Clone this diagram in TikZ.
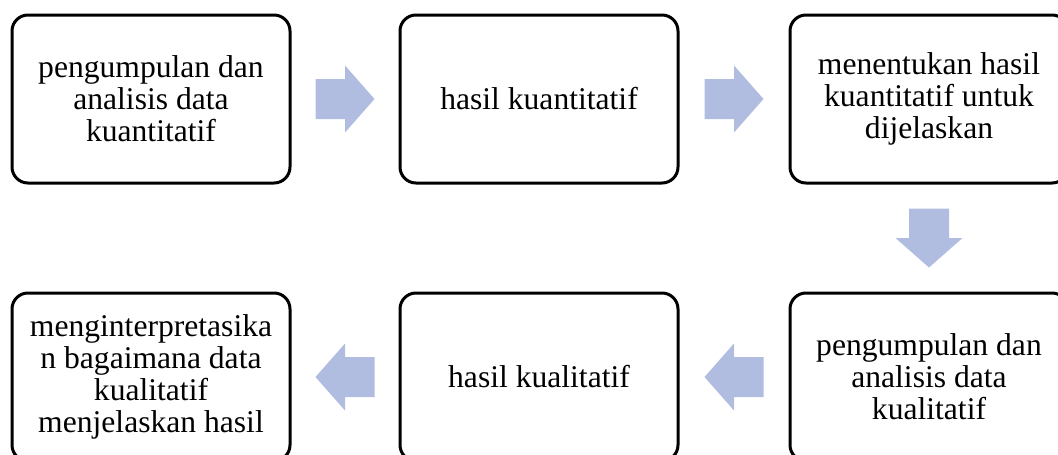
\documentclass[tikz,border=0pt]{standalone}
\usepackage{fontspec}
\setmainfont{Liberation Serif}
\usetikzlibrary{calc}
\definecolor{arrowfill}{RGB}{176,189,224}
\tikzset{
  stage/.style={draw=black, line width=3pt, rounded corners=16pt,
    minimum width=278pt, minimum height=168pt, align=center,
    font=\fontsize{31.6}{32}\selectfont, inner sep=0pt, fill=white},
  blockarrow/.pic={
    \fill[arrowfill] (-29.5,-20) -- (0,-20) -- (0,-33.5) -- (29.5,0)
      -- (0,33.5) -- (0,20) -- (-29.5,20) -- cycle;
  }
}
\begin{document}
\begin{tikzpicture}[x=1pt,y=-1pt]
\useasboundingbox (0,0) rectangle (1058,455);

% quantitative phase
\node[stage] (b1) at (151,99) {pengumpulan dan\\analisis data\\kuantitatif};
\node[stage] (b2) at (539,99) {hasil kuantitatif};
\node[stage] (b3) at (929,99) {menentukan hasil\\kuantitatif untuk\\dijelaskan};

% qualitative phase
\node[stage] (b4) at (929,377) {pengumpulan dan\\analisis data\\kualitatif};
\node[stage] (b5) at (539,377) {hasil kualitatif};
\node[stage] (b6) at (151,377) {menginterpretasika\\n bagaimana data\\kualitatif\\menjelaskan hasil};

% flow arrows
\pic at ($(b1.east)!0.5!(b2.west)$) {blockarrow};
\pic at ($(b2.east)!0.5!(b3.west)$) {blockarrow};
\pic[rotate=-90] at ($(b3.south)!0.5!(b4.north)$) {blockarrow};
\pic[rotate=180] at ($(b4.west)!0.5!(b5.east)$) {blockarrow};
\pic[rotate=180] at ($(b5.west)!0.5!(b6.east)$) {blockarrow};
\end{tikzpicture}
\end{document}
